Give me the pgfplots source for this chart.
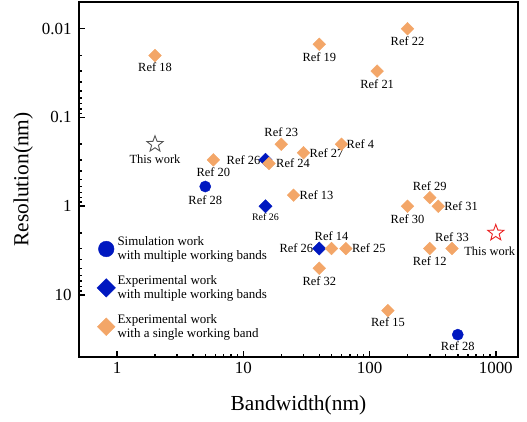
\documentclass[border=0pt]{standalone}
\usepackage{fontspec}
\setmainfont{Liberation Serif}
\usepackage{pgfplots}
\pgfplotsset{compat=1.18}
\definecolor{orng}{RGB}{243,166,104}
\definecolor{blu}{RGB}{0,24,192}
\definecolor{dgray}{RGB}{85,85,85}
\definecolor{rred}{RGB}{235,30,30}
\pgfdeclareplotmark{ostar}{%
  \pgfpathmoveto{\pgfpointpolar{90}{\pgfplotmarksize}}%
  \pgfpathlineto{\pgfpointpolar{126}{0.42\pgfplotmarksize}}%
  \pgfpathlineto{\pgfpointpolar{162}{\pgfplotmarksize}}%
  \pgfpathlineto{\pgfpointpolar{198}{0.42\pgfplotmarksize}}%
  \pgfpathlineto{\pgfpointpolar{234}{\pgfplotmarksize}}%
  \pgfpathlineto{\pgfpointpolar{270}{0.42\pgfplotmarksize}}%
  \pgfpathlineto{\pgfpointpolar{306}{\pgfplotmarksize}}%
  \pgfpathlineto{\pgfpointpolar{342}{0.42\pgfplotmarksize}}%
  \pgfpathlineto{\pgfpointpolar{18}{\pgfplotmarksize}}%
  \pgfpathlineto{\pgfpointpolar{54}{0.42\pgfplotmarksize}}%
  \pgfpathclose
  \pgfusepathqstroke
}
\tikzset{rl/.style={font=\fontsize{12.5}{13}\selectfont, inner sep=0pt},
         rls/.style={font=\fontsize{10}{11}\selectfont, inner sep=0pt}}
\begin{document}
\begin{tikzpicture}
\begin{axis}[
  scale only axis, width=439bp, height=355bp,
  xmode=log, ymode=log, y dir=reverse,
  xmin=0.5, xmax=1500, ymin=0.005, ymax=50,
  xtick={1,10,100,1000}, xticklabels={1,10,100,1000},
  ytick={0.01,0.1,1,10}, yticklabels={0.01,0.1,1,10},
  tick align=inside, tick pos=left,
  axis line style={line width=1.8pt},
  major tick length=6bp, minor tick length=3.5bp,
  every tick/.style={black, line width=1.5pt},
  tick label style={font=\fontsize{17}{17}\selectfont},
  xticklabel style={yshift=-2bp},
  yticklabel style={xshift=-4bp},
  xlabel={Bandwidth(nm)}, ylabel={Resolution(nm)},
  label style={font=\fontsize{21.5}{22}\selectfont},
  xlabel style={yshift=-15bp},
  ylabel style={yshift=2bp},
  legend style={draw=none, fill=none, at={(axis cs:0.655,1.97)}, anchor=north west,
    font=\fontsize{13}{14.5}\selectfont, cells={align=left}, row sep=10bp},
  legend cell align=left,
  legend image post style={every mark/.append style={scale=1.4}},
]
\addplot[only marks, mark=*, mark size=5.6, draw=blu, fill=blu] coordinates {(5,0.6) (500,28)};
\addlegendentry{Simulation work\\with multiple working bands}
\addplot[only marks, mark=square*, mark size=4.7, mark options={rotate=45}, draw=blu, fill=blu] coordinates {(15,0.3) (15,1.0) (40,3)};
\addlegendentry{Experimental work\\with multiple working bands}
\addplot[only marks, mark=square*, mark size=4.5, mark options={rotate=45}, draw=orng, fill=orng] coordinates {
(2,0.02) (5.8,0.3) (16,0.33) (20,0.2) (30,0.25) (60,0.2) (25,0.75)
(40,0.015) (200,0.01) (115,0.03) (300,0.8) (350,1.0) (200,1.0)
(300,3) (450,3) (50,3) (65,3) (40,5) (140,15)};
\addlegendentry{Experimental work\\with a single working band}
\addplot[only marks, mark=ostar, mark size=8.5, draw=dgray, line width=0.9pt, forget plot] coordinates {(2,0.2)};
\addplot[only marks, mark=ostar, mark size=8.5, draw=rred, line width=0.9pt, forget plot] coordinates {(1000,2)};
\node[rl, anchor=north, yshift=-7bp] at (axis cs:2,0.02) {Ref 18};
\node[rl, anchor=north, yshift=-10bp] at (axis cs:2,0.2) {This work};
\node[rl, anchor=north, yshift=-8bp] at (axis cs:5.8,0.3) {Ref 20};
\node[rl, anchor=north, yshift=-9bp] at (axis cs:5,0.6) {Ref 28};
\node[rl, anchor=east, xshift=-5bp] at (axis cs:15,0.3) {Ref 26};
\node[rl, anchor=west, xshift=7bp] at (axis cs:16,0.33) {Ref 24};
\node[rl, anchor=south, yshift=7bp] at (axis cs:20,0.2) {Ref 23};
\node[rl, anchor=west, xshift=6bp] at (axis cs:30,0.25) {Ref 27};
\node[rl, anchor=west, xshift=5bp] at (axis cs:60,0.2) {Ref 4};
\node[rl, anchor=west, xshift=6bp] at (axis cs:25,0.75) {Ref 13};
\node[rls, anchor=north, yshift=-7bp] at (axis cs:15,1) {Ref 26};
\node[rl, anchor=north, yshift=-8bp] at (axis cs:40,0.015) {Ref 19};
\node[rl, anchor=north, yshift=-8bp] at (axis cs:200,0.01) {Ref 22};
\node[rl, anchor=north, yshift=-8bp] at (axis cs:115,0.03) {Ref 21};
\node[rl, anchor=south, yshift=7bp] at (axis cs:300,0.8) {Ref 29};
\node[rl, anchor=west, xshift=6bp] at (axis cs:350,1) {Ref 31};
\node[rl, anchor=north, yshift=-8bp] at (axis cs:200,1) {Ref 30};
\node[rl, anchor=north, yshift=-8bp] at (axis cs:300,3) {Ref 12};
\node[rl, anchor=south, yshift=7bp] at (axis cs:450,3) {Ref 33};
\node[rl, anchor=north, yshift=-14bp, xshift=-6bp] at (axis cs:1000,2) {This work};
\node[rl, anchor=south, yshift=8bp] at (axis cs:50,3) {Ref 14};
\node[rl, anchor=east, xshift=-6bp] at (axis cs:40,3) {Ref 26};
\node[rl, anchor=west, xshift=6bp] at (axis cs:65,3) {Ref 25};
\node[rl, anchor=north, yshift=-8bp] at (axis cs:40,5) {Ref 32};
\node[rl, anchor=north, yshift=-7bp] at (axis cs:140,15) {Ref 15};
\node[rl, anchor=north, yshift=-7bp] at (axis cs:500,28) {Ref 28};
\end{axis}
\pgfresetboundingbox
\path ([shift={(-79bp,-64bp)}]current axis.south west) rectangle ([shift={(9bp,2bp)}]current axis.north east);
\end{tikzpicture}
\end{document}
